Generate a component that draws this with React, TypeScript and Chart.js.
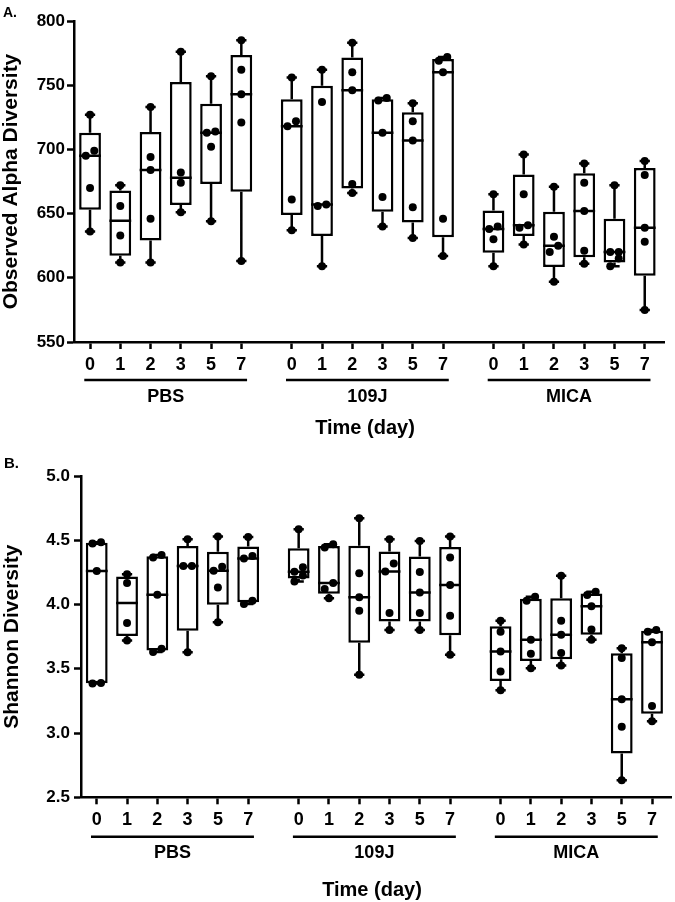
import React, { useEffect, useRef } from 'react';
import { Chart, registerables } from 'chart.js';

Chart.register(...registerables);
Chart.defaults.font.family = '"Liberation Sans", Arial, Helvetica, sans-serif';
Chart.defaults.color = '#000';

// ---------- data ----------
const dayLabels = ['0', '1', '2', '3', '5', '7'];
const groupNames = ['PBS', '109J', 'MICA'];

// Observed alpha diversity, one list of samples per day
const alphaPBS = [
  [636, 670, 695, 699, 727],
  [612, 633, 656, 672],
  [612, 646, 684, 694, 733],
  [651, 674, 682, 776],
  [644, 702, 713, 714, 757],
  [613, 721, 743, 762, 785],
];
const alpha109J = [
  [637, 661, 718, 722, 756],
  [609, 656, 657, 737, 762],
  [666, 673, 746, 760, 783],
  [640, 663, 713, 738, 740],
  [631, 655, 707, 722, 736],
  [617, 646, 760, 769, 772],
];
const alphaMICA = [
  [609, 630, 638, 640, 665],
  [626, 639, 641, 665, 696],
  [597, 620, 625, 632, 671],
  [611, 621, 652, 674, 689],
  [609, 615, 620, 620, 672],
  [575, 628, 639, 680, 691],
];

// Shannon diversity
const shannonPBS = [
  [3.385, 3.39, 4.26, 4.475, 4.485],
  [3.72, 3.857, 4.167, 4.236],
  [3.63, 3.655, 4.076, 4.365, 4.386],
  [3.629, 4.3, 4.3, 4.508],
  [3.862, 4.133, 4.262, 4.293, 4.529],
  [4.004, 4.03, 4.358, 4.378, 4.526],
];
const shannon109J = [
  [4.18, 4.225, 4.255, 4.29, 4.585],
  [4.048, 4.12, 4.167, 4.443, 4.469],
  [3.453, 3.952, 4.056, 4.244, 4.671],
  [3.802, 3.934, 4.257, 4.319, 4.508],
  [3.802, 3.934, 4.094, 4.254, 4.495],
  [3.609, 3.913, 4.151, 4.366, 4.529],
];
const shannonMICA = [
  [3.332, 3.479, 3.634, 3.789, 3.874],
  [3.505, 3.616, 3.725, 4.03, 4.06],
  [3.525, 3.622, 3.764, 3.874, 4.223],
  [3.725, 3.805, 3.986, 4.074, 4.099],
  [2.632, 3.048, 3.262, 3.583, 3.66],
  [3.091, 3.211, 3.707, 3.789, 3.802],
];

const alphaTicks = [550, 600, 650, 700, 750, 800];
const shannonTicks = [2.5, 3.0, 3.5, 4.0, 4.5, 5.0];

// ---------- helpers ----------
const GROUP_GAP = 20 / 3;
const BOX_W = 0.72;
const CAP_HALF = 0.17;
const JITTER = 0.14;

function quant(s: number[], p: number): number {
  const n = s.length;
  const pos = p * (n + 1);
  if (pos <= 1) return s[0];
  if (pos >= n) return s[n - 1];
  const lo = Math.floor(pos);
  const f = pos - lo;
  return s[lo - 1] + f * (s[lo] - s[lo - 1]);
}

type Cfg = {
  groups: number[][][];
  yTicks: number[];
  yTitle: string;
  fmt: (v: number) => string;
  canvasH: number;
  padTop: number;
  padRight: number;
  yAxisW: number;
  xAxisH: number;
  xMin: number;
  xMax: number;
  plotH: number;
  yTickPad: number;
  yTitlePad: number;
  lineOff: number;
  labelOff: number;
  timeOff: number;
};

function BoxChart({ cfg }: { cfg: Cfg }) {
  const ref = useRef<HTMLCanvasElement | null>(null);
  useEffect(() => {
    if (!ref.current) return;
    const yMin = cfg.yTicks[0];
    const yMax = cfg.yTicks[cfg.yTicks.length - 1];
    const thr = (8.8 * (yMax - yMin)) / cfg.plotH;

    const pts: any[] = [];
    const whisk: any[] = [];
    const caps: any[] = [];
    const meds: any[] = [];
    const bars: any[] = [];
    const positions: number[] = [];

    cfg.groups.forEach((grp, g) => {
      grp.forEach((vals, d) => {
        const pos = g * GROUP_GAP + d;
        positions.push(pos);
        const s = [...vals].sort((a, b) => a - b);
        const mn = s[0];
        const mx = s[s.length - 1];
        const q1 = quant(s, 0.25);
        const md = quant(s, 0.5);
        const q3 = quant(s, 0.75);
        bars.push({ x: pos, y: [q1, q3] });
        whisk.push({ x: pos, y: mn }, { x: pos, y: q1 }, { x: pos, y: null });
        whisk.push({ x: pos, y: q3 }, { x: pos, y: mx }, { x: pos, y: null });
        caps.push({ x: pos - CAP_HALF, y: mn }, { x: pos + CAP_HALF, y: mn }, { x: pos, y: null });
        caps.push({ x: pos - CAP_HALF, y: mx }, { x: pos + CAP_HALF, y: mx }, { x: pos, y: null });
        meds.push({ x: pos - BOX_W / 2, y: md }, { x: pos + BOX_W / 2, y: md }, { x: pos, y: null });
        // clusters of overlapping dots are spread left/right
        let i = 0;
        while (i < s.length) {
          let j = i;
          while (j + 1 < s.length && s[j + 1] - s[j] < thr) j++;
          for (let k = i; k <= j; k++) {
            const off = j === i ? 0 : (k - i) % 2 === 0 ? -JITTER : JITTER;
            pts.push({ x: pos + off, y: s[k] });
          }
          i = j + 1;
        }
      });
    });

    const groupPlugin = {
      id: 'groups',
      afterDraw(chart: any) {
        const { ctx, chartArea } = chart;
        const xs = chart.scales.x;
        ctx.save();
        ctx.strokeStyle = '#000';
        ctx.fillStyle = '#000';
        ctx.lineWidth = 2.5;
        ctx.textAlign = 'center';
        ctx.textBaseline = 'middle';
        groupNames.forEach((name, g) => {
          const a = xs.getPixelForValue(g * GROUP_GAP - 0.19);
          const b = xs.getPixelForValue(g * GROUP_GAP + 5 + 0.19);
          const y = chartArea.bottom + cfg.lineOff;
          ctx.beginPath();
          ctx.moveTo(a, y);
          ctx.lineTo(b, y);
          ctx.stroke();
          ctx.font = 'bold 18px "Liberation Sans", Arial, sans-serif';
          ctx.fillText(name, (a + b) / 2, chartArea.bottom + cfg.labelOff);
        });
        ctx.font = 'bold 20px "Liberation Sans", Arial, sans-serif';
        ctx.fillText('Time (day)', (chartArea.left + chartArea.right) / 2 - 4, chartArea.bottom + cfg.timeOff);
        ctx.restore();
      },
    };

    const gridOpts = {
      display: true,
      drawOnChartArea: false,
      drawTicks: true,
      tickLength: 7,
      tickWidth: 2.5,
      tickColor: '#000',
      color: '#000',
      offset: false,
    };
    const borderOpts = { display: true, color: '#000', width: 2.5 };

    const chart = new Chart(ref.current, {
      type: 'scatter',
      data: {
        datasets: [
          {
            type: 'scatter',
            data: pts,
            pointRadius: 4,
            pointHoverRadius: 4,
            backgroundColor: '#000',
            borderWidth: 0,
            order: 0,
          },
          {
            type: 'scatter',
            data: meds,
            showLine: true,
            spanGaps: false,
            pointRadius: 0,
            borderColor: '#000',
            borderWidth: 2.5,
            order: 1,
          },
          {
            type: 'bar',
            data: bars,
            backgroundColor: '#fff',
            borderColor: '#000',
            borderWidth: 2.5,
            borderSkipped: false,
            barPercentage: BOX_W,
            categoryPercentage: 1,
            order: 2,
          },
          {
            type: 'scatter',
            data: caps,
            showLine: true,
            spanGaps: false,
            pointRadius: 0,
            borderColor: '#000',
            borderWidth: 2.5,
            order: 3,
          },
          {
            type: 'scatter',
            data: whisk,
            showLine: true,
            spanGaps: false,
            pointRadius: 0,
            borderColor: '#000',
            borderWidth: 2.5,
            order: 4,
          },
        ] as any,
      },
      options: {
        responsive: false,
        animation: false,
        devicePixelRatio: 1,
        layout: { padding: { top: cfg.padTop, right: cfg.padRight, bottom: 0, left: 0 } },
        plugins: { legend: { display: false }, tooltip: { enabled: false } },
        scales: {
          x: {
            type: 'linear',
            min: cfg.xMin,
            max: cfg.xMax,
            offset: false,
            afterFit: (s: any) => {
              s.height = cfg.xAxisH;
            },
            afterBuildTicks: (s: any) => {
              s.ticks = positions.map((v) => ({ value: v }));
            },
            ticks: {
              callback: (_v: any, i: number) => dayLabels[i % dayLabels.length],
              autoSkip: false,
              maxRotation: 0,
              minRotation: 0,
              padding: 5,
              color: '#000',
              font: { size: 18, weight: 'bold' },
            },
            grid: gridOpts,
            border: borderOpts,
          },
          y: {
            type: 'linear',
            min: yMin,
            max: yMax,
            beginAtZero: false,
            afterFit: (s: any) => {
              s.width = cfg.yAxisW;
            },
            afterBuildTicks: (s: any) => {
              s.ticks = cfg.yTicks.map((v) => ({ value: v }));
            },
            ticks: {
              callback: (v: any) => cfg.fmt(Number(v)),
              padding: cfg.yTickPad,
              color: '#000',
              font: { size: 17, weight: 'bold' },
            },
            grid: gridOpts,
            border: borderOpts,
            title: {
              display: true,
              text: cfg.yTitle,
              color: '#000',
              font: { size: 21, weight: 'bold', lineHeight: 1.05 },
              padding: { top: cfg.yTitlePad, bottom: 0 },
            },
          },
        },
      } as any,
      plugins: [groupPlugin],
    });
    return () => chart.destroy();
  }, [cfg]);

  return <canvas ref={ref} width={675} height={cfg.canvasH} style={{ display: 'block', width: 675, height: cfg.canvasH }} />;
}

const cfgA: Cfg = {
  groups: [alphaPBS, alpha109J, alphaMICA],
  yTicks: alphaTicks,
  yTitle: 'Observed Alpha Diversity',
  fmt: (v) => String(v),
  canvasH: 445,
  padTop: 21,
  padRight: 11,
  yAxisW: 74,
  xAxisH: 103,
  xMin: -0.53,
  xMax: 18.97,
  plotH: 321,
  yTickPad: 2,
  yTitlePad: 0,
  lineOff: 38,
  labelOff: 55,
  timeOff: 86,
};

const cfgB: Cfg = {
  groups: [shannonPBS, shannon109J, shannonMICA],
  yTicks: shannonTicks,
  yTitle: 'Shannon Diversity',
  fmt: (v) => v.toFixed(1),
  canvasH: 457,
  padTop: 31,
  padRight: 2,
  yAxisW: 81,
  xAxisH: 104.7,
  xMin: -0.52,
  xMax: 18.96,
  plotH: 321,
  yTickPad: 4,
  yTitlePad: 1,
  lineOff: 39.4,
  labelOff: 56,
  timeOff: 93,
};

export default function App() {
  const letter: React.CSSProperties = {
    position: 'absolute',
    fontFamily: '"Liberation Sans", Arial, sans-serif',
    fontWeight: 'bold',
    lineHeight: 1,
    color: '#000',
  };
  return (
    <div style={{ position: 'absolute', left: 0, top: 0, width: 675, height: 902, background: '#fff' }}>
      <div style={{ position: 'absolute', left: 0, top: 0 }}>
        <BoxChart cfg={cfgA} />
      </div>
      <div style={{ position: 'absolute', left: 0, top: 445 }}>
        <BoxChart cfg={cfgB} />
      </div>
      <div style={{ ...letter, left: 3, top: 5, fontSize: 14 }}>A.</div>
      <div style={{ ...letter, left: 4, top: 455, fontSize: 15 }}>B.</div>
    </div>
  );
}
